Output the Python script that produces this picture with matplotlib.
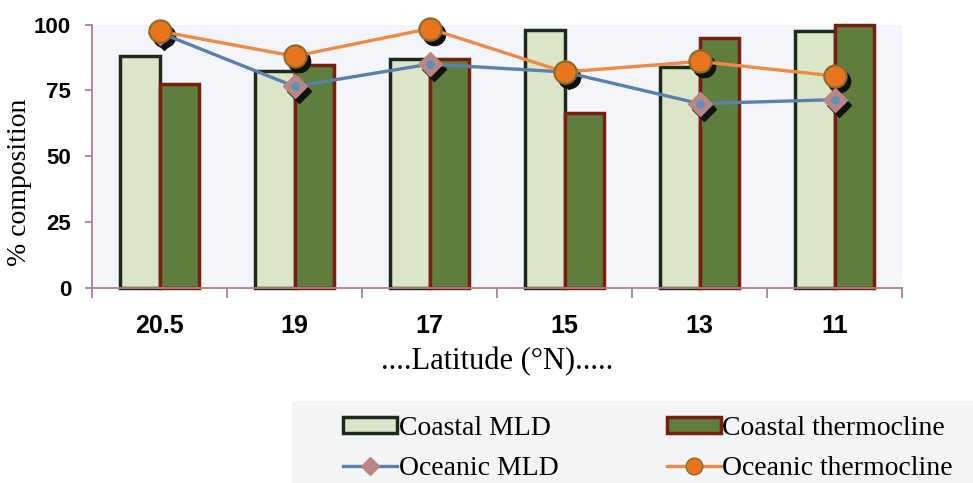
import numpy as np
import matplotlib
matplotlib.use('Agg')
import matplotlib.pyplot as plt
from matplotlib.transforms import offset_copy
from matplotlib.patches import Patch, Rectangle
from matplotlib.lines import Line2D

# latitude classes and composition (%)
latitudes = ['20.5', '19', '17', '15', '13', '11']
coastal_mld = [88, 82.5, 87, 98, 84, 97.5]
coastal_thermo = [77.5, 84.5, 87, 66.5, 95, 100]
oceanic_mld = [97, 76.5, 85, 82, 70, 71.5]
oceanic_thermo = [97.5, 88, 98.5, 82, 86, 80.5]

fig = plt.figure(figsize=(9.73, 4.83), dpi=100)
fig.patch.set_facecolor('white')
ax = fig.add_axes([0.0946, 0.404, 0.8325, 0.545])
ax.set_facecolor('#f3f5fa')

x = np.arange(len(latitudes))
w = 0.29
ax.bar(x - w / 2, coastal_mld, w, color='#dbe6c8', edgecolor='#1c2a1c',
       linewidth=2.5, zorder=2, clip_on=False)
ax.bar(x + w / 2, coastal_thermo, w, color='#5f7d3c', edgecolor='#7a1e12',
       linewidth=2.5, zorder=2, clip_on=False)

# shadows under the markers
sh = offset_copy(ax.transData, fig=fig, x=4, y=-5, units='dots')
ax.plot(x, oceanic_mld, 'D', ms=12, color='#111111', transform=sh, zorder=3, clip_on=False)
ax.plot(x, oceanic_thermo, 'o', ms=16, color='#111111', transform=sh, zorder=4, clip_on=False)

ax.plot(x, oceanic_mld, '-', color='#5b7fae', lw=2.4, zorder=5, clip_on=False)
ax.plot(x, oceanic_mld, 'D', ms=12, mfc='#b98585', mec='#b98585', zorder=5, clip_on=False)
ax.plot(x, oceanic_mld, 'o', ms=5, color='#5b8fc0', zorder=5, clip_on=False)
ax.plot(x, oceanic_thermo, '-', color='#ee8a45', lw=2.4, zorder=6, clip_on=False)
ax.plot(x, oceanic_thermo, 'o', ms=16, mfc='#e8741e', mec='#8b6a2a', mew=1.5,
        zorder=6, clip_on=False)

ax.set_xlim(-0.5, len(latitudes) - 0.5)
ax.set_ylim(0, 100)
ax.set_yticks([0, 25, 50, 75, 100])
ax.set_xticks(x)
ax.set_xticklabels(latitudes)
ax.set_xticks(np.arange(-0.5, len(latitudes)), minor=True)
ax.tick_params(axis='x', which='major', length=0, pad=19)
ax.tick_params(axis='x', which='minor', length=7, color='#a07a7a', width=1.2)
ax.tick_params(axis='y', length=5, color='#a07a7a', width=1.2, pad=10)
for lab in ax.get_xticklabels():
    lab.set_fontfamily('Liberation Sans')
    lab.set_fontweight('bold')
    lab.set_fontsize(18)
for lab in ax.get_yticklabels():
    lab.set_fontfamily('Liberation Sans')
    lab.set_fontweight('bold')
    lab.set_fontsize(16)

for s in ['top', 'right']:
    ax.spines[s].set_visible(False)
for s in ['left', 'bottom']:
    ax.spines[s].set_color('#b08080')
    ax.spines[s].set_linewidth(1.3)

ax.set_ylabel('% composition', fontfamily='Liberation Serif', fontsize=20)
ax.yaxis.set_label_coords(-0.074, 0.40)
ax.set_xlabel('....Latitude (°N).....', fontfamily='Liberation Serif', fontsize=22)
ax.xaxis.set_label_coords(0.5, -0.226)

# legend box at the bottom right
fig.patches.append(Rectangle((0.30, 0.0), 0.70, 0.17, transform=fig.transFigure,
                             facecolor='#f3f4f6', edgecolor='none', zorder=0))
handles = [
    Patch(facecolor='#dbe6c8', edgecolor='#1c2a1c', linewidth=2.5),
    Line2D([], [], color='#5b7fae', lw=2.4, marker='D', ms=9, mfc='#b98585', mec='#b98585'),
    Patch(facecolor='#5f7d3c', edgecolor='#7a1e12', linewidth=2.5),
    Line2D([], [], color='#ee8a45', lw=2.4, marker='o', ms=12, mfc='#e8741e', mec='#8b6a2a'),
]
labels = ['Coastal MLD', 'Oceanic MLD', 'Coastal thermocline', 'Oceanic thermocline']
fig.legend(handles, labels, ncol=2, loc='upper left', bbox_to_anchor=(343 / 973, 1 - 416 / 483),
           frameon=False, prop={'family': 'Liberation Serif', 'size': 20},
           borderpad=0, borderaxespad=0,
           handlelength=1.95, handleheight=0.5, handletextpad=0.05,
           columnspacing=3.9, labelspacing=0.55)

fig.savefig('out.png', dpi=100)
